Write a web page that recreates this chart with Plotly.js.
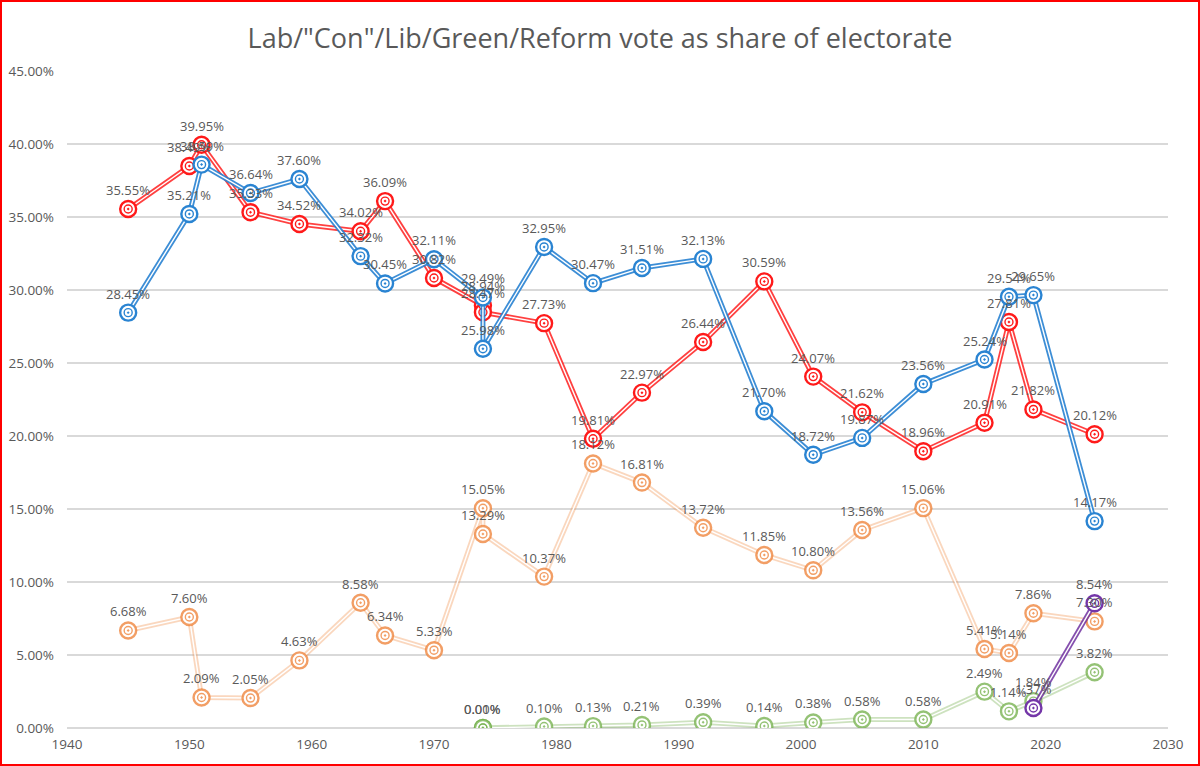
<!DOCTYPE html>
<html>
<head>
<meta charset="utf-8">
<script src="https://cdn.plot.ly/plotly-3.0.1.min.js"></script>
<style>
  html, body { margin: 0; padding: 0; background: #fff; }
  #chart { width: 1200px; height: 766px; box-sizing: border-box; border: 2px solid #ff0000; }
</style>
</head>
<body>
<div id="chart"></div>
<script>
// general elections (both 1974 elections share the same x)
const years = [1945, 1950, 1951, 1955, 1959, 1964, 1966, 1970, 1974, 1974, 1979,
               1983, 1987, 1992, 1997, 2001, 2005, 2010, 2015, 2017, 2019, 2024];

// vote as % of electorate
const lab = [35.55, 38.49, 39.95, 35.33, 34.52, 34.02, 36.09, 30.82, 28.94, 28.47, 27.73,
             19.81, 22.97, 26.44, 30.59, 24.07, 21.62, 18.96, 20.91, 27.81, 21.82, 20.12];
const con = [28.45, 35.21, 38.59, 36.64, 37.60, 32.32, 30.45, 32.11, 29.49, 25.98, 32.95,
             30.47, 31.51, 32.13, 21.70, 18.72, 19.87, 23.56, 25.24, 29.54, 29.65, 14.17];
const lib = [6.68, 7.60, 2.09, 2.05, 4.63, 8.58, 6.34, 5.33, 15.05, 13.29, 10.37,
             18.12, 16.81, 13.72, 11.85, 10.80, 13.56, 15.06, 5.41, 5.14, 7.86, 7.30];
const green = [null, null, null, null, null, null, null, null, 0.01, 0.00, 0.10,
               0.13, 0.21, 0.39, 0.14, 0.38, 0.58, 0.58, 2.49, 1.14, 1.84, 3.82];
const reform = [null, null, null, null, null, null, null, null, null, null, null,
                null, null, null, null, null, null, null, null, null, 1.37, 8.54];

const FONT = '"Open Sans", "Noto Sans", sans-serif';

const series = [
  { name: 'Lab',    y: lab,    line: 'rgba(255,30,30,0.85)',  mark: '#ff1a1a' },
  { name: 'Con',    y: con,    line: 'rgba(40,130,210,0.9)',  mark: '#2a84d2' },
  { name: 'Lib',    y: lib,    line: 'rgba(240,140,70,0.35)', mark: 'rgba(237,125,49,0.75)' },
  { name: 'Green',  y: green,  line: 'rgba(112,173,71,0.35)', mark: 'rgba(112,173,71,0.75)' },
  { name: 'Reform', y: reform, line: 'rgba(112,48,160,0.85)', mark: '#7436a8' }
];

const traces = [];
const annotations = [];
series.forEach(s => {
  const xs = [], ys = [];
  years.forEach((yr, i) => {
    if (s.y[i] !== null) { xs.push(yr); ys.push(s.y[i]); }
  });
  // outer coloured stroke of the double line
  traces.push({
    x: xs, y: ys, type: 'scatter', mode: 'lines',
    line: { color: s.line, width: 5 }, hoverinfo: 'skip'
  });
  // white core of the double line + outer marker ring
  traces.push({
    x: xs, y: ys, type: 'scatter', mode: 'lines+markers',
    line: { color: '#ffffff', width: 1.4 },
    marker: { symbol: 'circle', size: 16, color: '#ffffff', line: { color: s.mark, width: 2.4 } },
    hoverinfo: 'skip'
  });
  // inner ring with dot
  traces.push({
    x: xs, y: ys, type: 'scatter', mode: 'markers',
    marker: { symbol: 'circle-open-dot', size: 8, color: s.mark, line: { color: s.mark, width: 1.4 } },
    hoverinfo: 'skip'
  });
  // data labels sit above each point
  xs.forEach((x, i) => {
    annotations.push({
      x: x, y: ys[i], xref: 'x', yref: 'y',
      text: ys[i].toFixed(2) + '%',
      showarrow: false, yshift: 19,
      font: { family: FONT, size: 13, color: '#595959' }
    });
  });
});

const layout = {
  width: 1196,
  height: 762,
  showlegend: false,
  paper_bgcolor: '#ffffff',
  plot_bgcolor: '#ffffff',
  margin: { l: 65, r: 30, t: 69, b: 36, pad: 0 },
  font: { family: FONT, color: '#595959' },
  title: {
    text: 'Lab/"Con"/Lib/Green/Reform vote as share of electorate',
    font: { family: FONT, size: 27, color: '#595959' },
    x: 0.5, xanchor: 'center', y: 0.952, yanchor: 'middle'
  },
  xaxis: {
    range: [1940, 2030],
    dtick: 10,
    tick0: 1940,
    showgrid: false,
    zeroline: false,
    showline: false,
    ticks: '',
    ticklabelstandoff: 6,
    tickfont: { family: FONT, size: 13.5, color: '#595959' }
  },
  yaxis: {
    range: [0, 45],
    dtick: 5,
    tickformat: '.2f',
    ticksuffix: '%',
    showgrid: true,
    gridcolor: '#d9d9d9',
    gridwidth: 1.6,
    zeroline: true,
    zerolinecolor: '#d9d9d9',
    zerolinewidth: 1.6,
    showline: false,
    ticks: '',
    ticklabelstandoff: 12,
    tickfont: { family: FONT, size: 13.5, color: '#595959' }
  },
  annotations: annotations
};

Plotly.newPlot('chart', traces, layout, { staticPlot: true });
</script>
</body>
</html>
